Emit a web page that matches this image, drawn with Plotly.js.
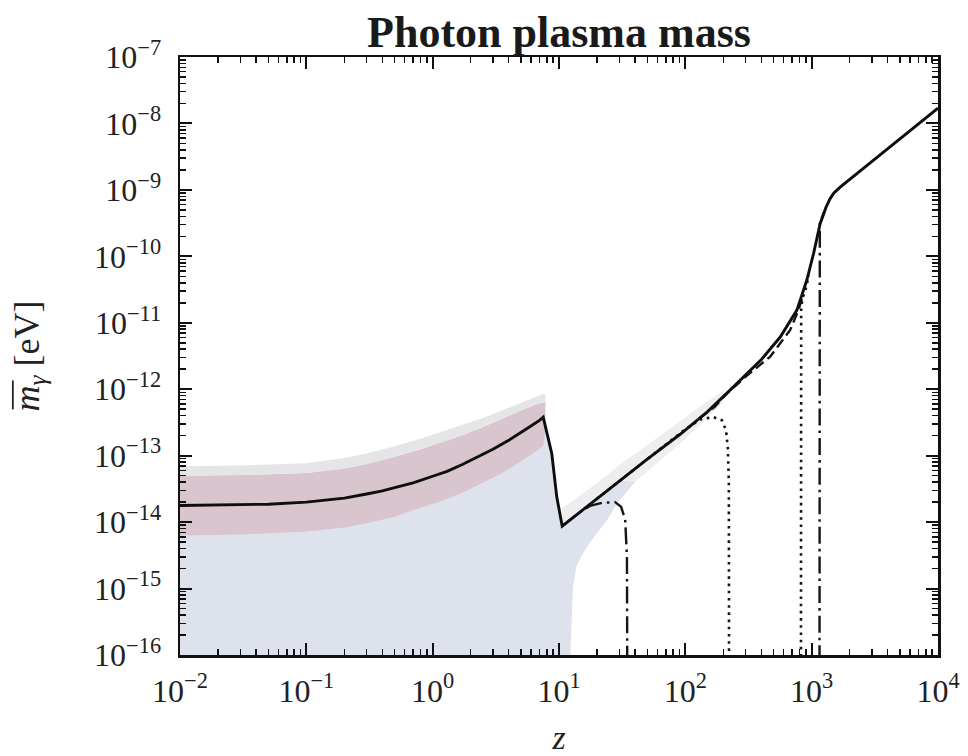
<!DOCTYPE html>
<html>
<head>
<meta charset="utf-8">
<script src="https://cdn.plot.ly/plotly-3.0.1.min.js"></script>
<style>
  html, body { margin: 0; padding: 0; background: #ffffff; }
  #chart { width: 968px; height: 756px; }
</style>
</head>
<body>
<div id="chart"></div>
<script>
// ---------- data ----------
// main (solid) curve
const solid_z = [0.01, 0.02, 0.05, 0.1, 0.15, 0.2, 0.3, 0.4, 0.5, 0.7, 1, 1.3, 1.7, 2.2, 3, 4, 5, 6, 7, 7.5, 8.77, 9.6, 10.6, 15, 20, 30, 50, 91, 150, 226, 300, 400, 564, 764, 916, 1035, 1167, 1300, 1400, 1500, 1700, 2400, 3750, 6000, 10000];
const solid_m = [1.78e-14, 1.8e-14, 1.86e-14, 2.0e-14, 2.15e-14, 2.3e-14, 2.65e-14, 2.95e-14, 3.3e-14, 3.9e-14, 4.9e-14, 5.8e-14, 7.3e-14, 9.2e-14, 1.25e-13, 1.7e-13, 2.2e-13, 2.8e-13, 3.4e-13, 3.8e-13, 1.07e-13, 2.4e-14, 8.7e-15, 1.46e-14, 2.25e-14, 4.2e-14, 8.9e-14, 2.1e-13, 4.6e-13, 9.7e-13, 1.65e-12, 2.8e-12, 6.1e-12, 1.55e-11, 4.4e-11, 1.1e-10, 3.1e-10, 5.5e-10, 7.4e-10, 9.0e-10, 1.12e-9, 1.9e-9, 3.8e-9, 7.8e-9, 1.7e-8];

// dashed curve (visible where it departs from the solid one)
const dash_z = [130, 170, 213, 307, 470, 676, 780, 850];
const dash_m = [3.7e-13, 5.4e-13, 8.6e-13, 1.6e-12, 3.1e-12, 7.8e-12, 1.5e-11, 2.5e-11];

// dotted curve (two pieces, zero in between)
const dot_z = [20, 50, 100, 131, 167, 195, 210, 217, 221, 222, null, 822, 822, 826, 850, 890, 950];
const dot_m = [2.25e-14, 8.9e-14, 2.5e-13, 3.5e-13, 3.8e-13, 3.4e-13, 2.4e-13, 1.3e-13, 4e-14, 1e-17, null, 1e-17, 8e-12, 1.7e-11, 2.4e-11, 3.0e-11, 5.2e-11];

// dash-dot curve (two pieces, zero in between)
const dd_z = [10.6, 15, 17.6, 22, 27.8, 31, 33.4, 34.5, 34.8, null, 1153, 1153, 1160, 1250];
const dd_m = [8.7e-15, 1.46e-14, 1.75e-14, 1.95e-14, 2.0e-14, 1.7e-14, 1.1e-14, 3e-15, 1e-17, null, 1e-17, 2.0e-10, 3.1e-10, 4.6e-10];

// uncertainty bands, low-z part
const band_z  = [0.01, 0.03, 0.1, 0.2, 0.3, 0.5, 0.8, 1.2, 1.8, 2.5, 3.5, 5, 6.5, 7.5, 7.8];
const pink_lo = [6.3e-15, 6.5e-15, 7.2e-15, 8.3e-15, 9.6e-15, 1.2e-14, 1.65e-14, 2.1e-14, 2.9e-14, 3.9e-14, 5.4e-14, 8.2e-14, 1.15e-13, 1.4e-13, 2.5e-13];
const pink_hi = [5.0e-14, 5.1e-14, 5.5e-14, 6.4e-14, 7.5e-14, 9.6e-14, 1.25e-13, 1.6e-13, 2.1e-13, 2.7e-13, 3.6e-13, 4.8e-13, 5.9e-13, 6.4e-13, 6.4e-13];
const gray_hi = [6.9e-14, 7.1e-14, 7.7e-14, 9.2e-14, 1.08e-13, 1.38e-13, 1.8e-13, 2.3e-13, 3.0e-13, 3.7e-13, 4.8e-13, 6.3e-13, 7.8e-13, 8.5e-13, 8.5e-13];

// light band around the curve after the drop
const rband_z  = [10.6, 15, 20, 30, 50, 100, 150, 200];
const rband_lo = [5e-15, 8e-15, 1.3e-14, 2.6e-14, 5.8e-14, 1.8e-13, 3.7e-13, 6.4e-13];
const rband_hi = [1.6e-14, 2.6e-14, 3.9e-14, 7.2e-14, 1.45e-13, 3.8e-13, 6.6e-13, 9.5e-13];

// right-hand boundary of the lower (blue) region
const blue_edge_z = [12.1, 12.3, 12.9, 13.8, 15.5, 18, 20.5, 24, 28.8, 40];
const blue_edge_m = [1e-17, 1e-16, 1.05e-15, 2.2e-15, 3.4e-15, 5.3e-15, 7.3e-15, 1.07e-14, 1.9e-14, 4.0e-14];
const floor_m = 1e-17;   // "zero" level, below the plotted range

// tick labels
const x_tickvals = [1e-2, 1e-1, 1e0, 1e1, 1e2, 1e3, 1e4];
const x_ticktext = ["10<sup>−2</sup>", "10<sup>−1</sup>", "10<sup>0</sup>", "10<sup>1</sup>", "10<sup>2</sup>", "10<sup>3</sup>", "10<sup>4</sup>"];
const y_tickvals = [1e-16, 1e-15, 1e-14, 1e-13, 1e-12, 1e-11, 1e-10, 1e-9, 1e-8, 1e-7];
const y_ticktext = ["10<sup>−16</sup>", "10<sup>−15</sup>", "10<sup>−14</sup>", "10<sup>−13</sup>", "10<sup>−12</sup>", "10<sup>−11</sup>", "10<sup>−10</sup>", "10<sup>−9</sup>", "10<sup>−8</sup>", "10<sup>−7</sup>"];

// ---------- build polygons from the arrays ----------
function rev(a) { return a.slice().reverse(); }
function band(xs, lo, hi) {
  return { x: xs.concat(rev(xs)), y: hi.concat(rev(lo)) };
}
const rb = band(rband_z, rband_lo, rband_hi);
const gb = band(band_z, pink_hi, gray_hi);
const pb = band(band_z, pink_lo, pink_hi);

// blue region: under the solid curve up to its right edge, down to the floor
const topIdx = solid_z.map((z, i) => i).filter(i => solid_z[i] <= 30);
const blue_x = topIdx.map(i => solid_z[i]).concat(rev(blue_edge_z)).concat([solid_z[0]]);
const blue_y = topIdx.map(i => solid_m[i]).concat(rev(blue_edge_m)).concat([floor_m]);

const fillTrace = (x, y, color) => ({
  x: x, y: y, type: 'scatter', mode: 'lines', fill: 'toself',
  fillcolor: color, line: { width: 0, color: color }, hoverinfo: 'skip'
});

const ink = '#151515';
const traces = [
  fillTrace(rb.x, rb.y, '#efedf0'),
  fillTrace(blue_x, blue_y, '#dde2ec'),
  fillTrace(pb.x, pb.y, '#d8c5cd'),
  fillTrace(gb.x, gb.y, '#e5e5e8'),
  { x: dot_z, y: dot_m, type: 'scatter', mode: 'lines',
    line: { color: ink, width: 2.6, dash: '2.6px,4.6px' } },
  { x: dd_z, y: dd_m, type: 'scatter', mode: 'lines',
    line: { color: ink, width: 2.4, dash: '17px,5px,2.6px,5px' } },
  { x: dash_z, y: dash_m, type: 'scatter', mode: 'lines',
    line: { color: ink, width: 2.4, dash: '10px,5px' } },
  { x: solid_z, y: solid_m, type: 'scatter', mode: 'lines',
    line: { color: '#0e0e0e', width: 2.9 } }
];

const serif = '"Liberation Serif", "DejaVu Serif", serif';
const axisCommon = {
  type: 'log', tickmode: 'array',
  showgrid: false, zeroline: false,
  showline: true, linecolor: '#111', linewidth: 2.5, mirror: 'ticks',
  ticks: 'inside', ticklen: 12, tickwidth: 2, tickcolor: '#111',
  minor: { ticks: 'inside', ticklen: 6, tickwidth: 1.5, tickcolor: '#111', dtick: 'D1', showgrid: false },
  tickfont: { family: serif, size: 32, color: '#222' },
  automargin: false
};

const layout = {
  width: 968, height: 756,
  margin: { l: 180, r: 30, t: 57, b: 101 },
  paper_bgcolor: '#ffffff', plot_bgcolor: '#ffffff',
  showlegend: false, hovermode: false,
  title: { text: '<b>Photon plasma mass</b>', font: { family: serif, size: 44, color: '#1a1a1a' },
           x: 0.5, xref: 'paper', y: 0.958, yref: 'container', yanchor: 'middle' },
  xaxis: Object.assign({}, axisCommon, {
    range: [-2, 4], tickvals: x_tickvals, ticktext: x_ticktext, ticklabelstandoff: 6,
    title: { text: '<i>z</i>', font: { family: serif, size: 34, color: '#222' }, standoff: 22 }
  }),
  yaxis: Object.assign({}, axisCommon, {
    range: [-16, -7], tickvals: y_tickvals, ticktext: y_ticktext, ticklabelstandoff: 10,
    title: { text: '<i>m</i><sub><i>γ</i></sub> [eV]',
             font: { family: serif, size: 36, color: '#222' }, standoff: 44 }
  })
};

Plotly.newPlot('chart', traces, layout, { staticPlot: true, displayModeBar: false }).then(function (gd) {
  // overline above "m_γ" in the y-axis title, placed from the rendered text
  const title = gd.querySelector('.ytitle');
  if (!title) return;
  const host = gd.getBoundingClientRect();
  const parts = Array.from(title.querySelectorAll('tspan')).filter(t => /[mγ]/.test(t.textContent) && t.textContent.length <= 2);
  if (!parts.length) return;
  let left = Infinity, top = Infinity, bottom = -Infinity;
  parts.forEach(t => {
    const r = t.getBoundingClientRect();
    left = Math.min(left, r.left); top = Math.min(top, r.top); bottom = Math.max(bottom, r.bottom);
  });
  const fs = gd._fullLayout;
  const pl = fs._size;
  const px = left - host.left + 0.17 * 36;
  const toPX = v => (v - pl.l) / pl.w;
  const toPY = v => 1 - (v - pl.t) / pl.h;
  Plotly.relayout(gd, { shapes: [{
    type: 'line', xref: 'paper', yref: 'paper', layer: 'above',
    x0: toPX(px), x1: toPX(px),
    y0: toPY(bottom - host.top - 2), y1: toPY(top - host.top + 6),
    line: { color: '#222', width: 1.8 }
  }]});
});
</script>
</body>
</html>
